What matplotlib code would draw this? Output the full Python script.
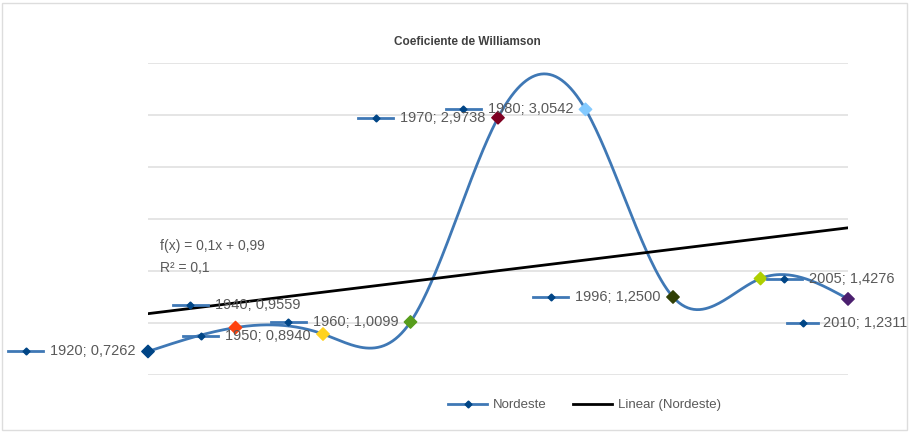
import numpy as np
import matplotlib.pyplot as plt
import matplotlib.transforms as mtransforms
from matplotlib.lines import Line2D
from matplotlib.patches import Rectangle

# Coeficiente de Williamson - Nordeste
years = ["1920", "1940", "1950", "1960", "1970", "1980", "1996", "2005", "2010"]
values = [0.7262, 0.9559, 0.8940, 1.0099, 2.9738, 3.0542, 1.2500, 1.4276, 1.2311]
point_colors = ["#004586", "#ff420e", "#ffd320", "#579d1c", "#7e0021",
                "#83caff", "#314004", "#aecf00", "#4b1f6f"]
label_place = ["left", "above", "left", "left", "left", "left", "left", "right", "below"]

LINE_BLUE = "#3f78b5"
TEXT_GRAY = "#595959"
FONT = ["Liberation Sans", "DejaVu Sans"]


def natural_spline(x, y, n=60):
    x = np.asarray(x, float)
    y = np.asarray(y, float)
    k = len(x)
    h = np.diff(x)
    A = np.zeros((k, k))
    b = np.zeros(k)
    A[0, 0] = A[-1, -1] = 1
    for i in range(1, k - 1):
        A[i, i - 1] = h[i - 1]
        A[i, i] = 2 * (h[i - 1] + h[i])
        A[i, i + 1] = h[i]
        b[i] = 6 * ((y[i + 1] - y[i]) / h[i] - (y[i] - y[i - 1]) / h[i - 1])
    M = np.linalg.solve(A, b)
    xs, ys = [], []
    for i in range(k - 1):
        t = np.linspace(x[i], x[i + 1], n)
        a = (x[i + 1] - t) / h[i]
        c = (t - x[i]) / h[i]
        s = a * y[i] + c * y[i + 1] + ((a ** 3 - a) * M[i] + (c ** 3 - c) * M[i + 1]) * h[i] ** 2 / 6
        xs.append(t)
        ys.append(s)
    return np.concatenate(xs), np.concatenate(ys)


def fmt(v, nd):
    return f"{v:.{nd}f}".replace(".", ",")


x = np.arange(1, len(values) + 1)

fig = plt.figure(figsize=(9.13, 4.33), dpi=100)
ax = fig.add_axes([148 / 913, 58 / 433, 700 / 913, 312 / 433])
ax.set_xlim(1, 9)
ax.set_ylim(0.5, 3.5)
ax.set_yticks(np.arange(0.5, 3.51, 0.5))
ax.set_xticks([])
ax.tick_params(left=False, labelleft=False)
for s in ax.spines.values():
    s.set_visible(False)
ax.grid(axis="y", color="#e0e0e0", lw=1.2)
ax.set_axisbelow(True)

# smoothed series
sx, sy = natural_spline(x, values)
ax.plot(sx, sy, color=LINE_BLUE, lw=2, zorder=3, clip_on=False)
ax.scatter(x, values, marker="D", s=40, c=point_colors, zorder=5, clip_on=False)

# linear trend
slope, icpt = np.polyfit(x, values, 1)
pred = slope * x + icpt
r2 = 1 - np.sum((np.array(values) - pred) ** 2) / np.sum((np.array(values) - np.mean(values)) ** 2)
ax.plot([x[0], x[-1]], [slope * x[0] + icpt, slope * x[-1] + icpt], color="black", lw=2, zorder=4)
ax.text(0.017, 0.413, f"f(x) = {fmt(slope, 1)}x + {fmt(icpt, 2)}", transform=ax.transAxes,
        fontsize=10, color=TEXT_GRAY, va="center", family=FONT)
ax.text(0.017, 0.343, f"R² = {fmt(r2, 1)}", transform=ax.transAxes,
        fontsize=10, color=TEXT_GRAY, va="center", family=FONT)

# data labels with legend key, offsets in pixels: (key start, key end, text left, dy)
offsets = {
    "left": (-140, -105, -98, 0),
    "above": (-63, -28, -21, 23),
    "right": (6, 41, 48, 0),
    "below": (-61, -30, -25, -24),
}
for xi, yi, yr, place in zip(x, values, years, label_place):
    k0, k1, tx, dy = offsets[place]
    if yr == "1950":
        dy = -2
    tr = mtransforms.Affine2D() + mtransforms.ScaledTranslation(xi, yi, ax.transData)
    ax.plot([k0, k1], [dy, dy], color=LINE_BLUE, lw=2, transform=tr, clip_on=False, zorder=6)
    ax.plot([(k0 + k1) / 2], [dy], marker="D", ms=3.5, color="#004586", transform=tr,
            clip_on=False, zorder=6)
    ax.annotate(f"{yr}; {fmt(yi, 4)}", (xi, yi), xytext=(tx, dy), textcoords="offset pixels",
                fontsize=10.5, color=TEXT_GRAY, va="center", ha="left", family=FONT,
                annotation_clip=False, zorder=7)

fig.text(0.512, 1 - 42 / 433, "Coeficiente de Williamson", ha="center", va="center",
         fontsize=8.5, fontweight="bold", color="#404040", family=FONT)

handles = [
    Line2D([], [], color=LINE_BLUE, lw=2, marker="D", ms=3.5, mfc="#004586", mec="#004586"),
    Line2D([], [], color="black", lw=2),
]
fig.legend(handles, ["Nordeste", "Linear (Nordeste)"], loc="center left",
           bbox_to_anchor=(436 / 913, 1 - 405 / 433), ncol=2, frameon=False,
           handlelength=3, handletextpad=0.4, columnspacing=2.0,
           prop={"family": FONT, "size": 9.5}, labelcolor=TEXT_GRAY)

fig.patches.append(Rectangle((2 / 913, 3 / 433), 905 / 913, 427 / 433, transform=fig.transFigure,
                             fill=False, ec="#dddddd", lw=1))

fig.savefig("out.png", dpi=100)
